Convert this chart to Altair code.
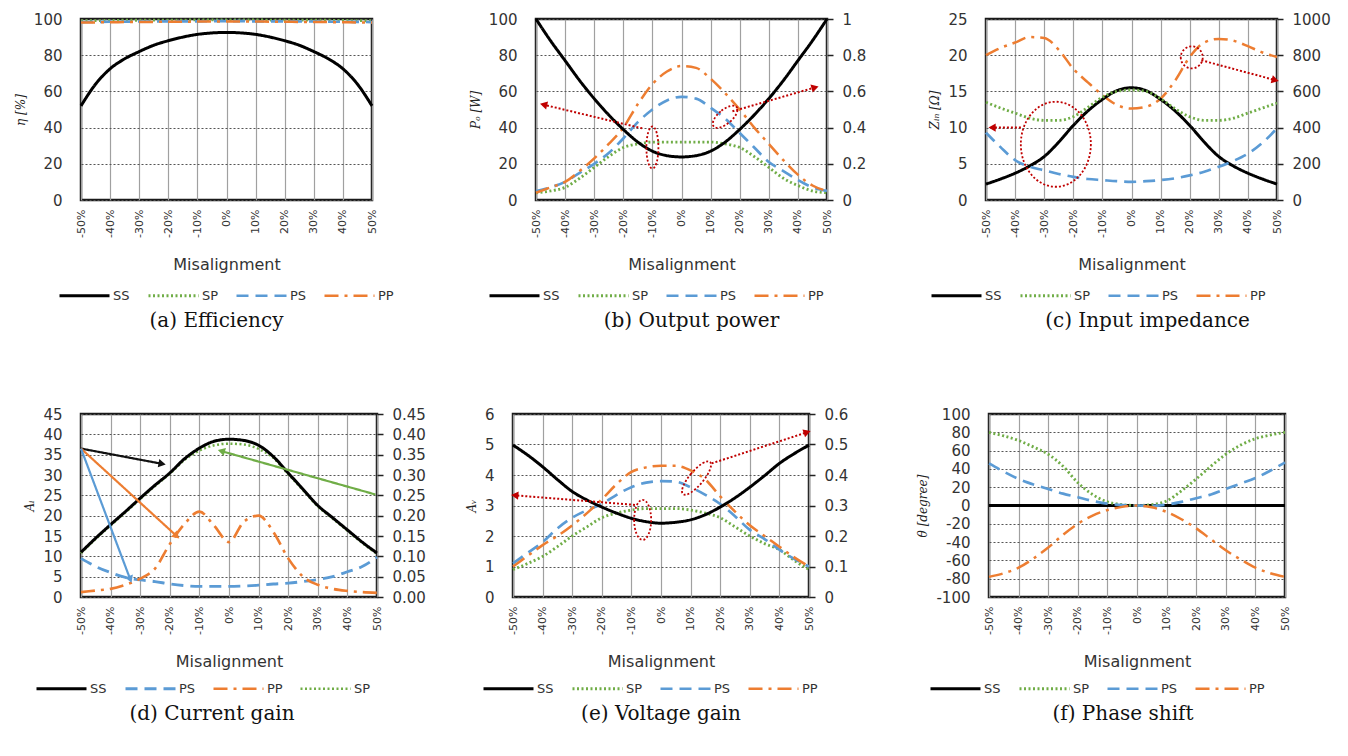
import math
import altair as alt
import pandas as pd

# Misalignment sample points (%) and the tick positions on the x axis
X = list(range(-50, 55, 5))
X_TICKS = list(range(-50, 60, 10))

# (a) Efficiency, eta [%]
eff_SS = [52, 64, 72.5, 78, 82, 85.5, 88, 90, 91.5, 92.3, 92.6, 92.3, 91.5, 90, 88, 85.5, 82, 78, 72.5, 64, 52]
eff_SP = [99.0, 99.1, 99.2, 99.3, 99.3, 99.4, 99.4, 99.4, 99.5, 99.5, 99.5, 99.5, 99.5, 99.4, 99.4, 99.4, 99.3, 99.3, 99.2, 99.1, 99.0]
eff_PS = [98.3, 98.4, 98.5, 98.5, 98.6, 98.6, 98.7, 98.7, 98.7, 98.8, 98.8, 98.8, 98.7, 98.7, 98.7, 98.6, 98.6, 98.5, 98.5, 98.4, 98.3]
eff_PP = [98.0, 98.1, 98.2, 98.3, 98.4, 98.4, 98.5, 98.5, 98.6, 98.6, 98.6, 98.6, 98.6, 98.5, 98.5, 98.4, 98.4, 98.3, 98.2, 98.1, 98.0]

# (b) Output power: SS on the left axis [W], the others on the right axis
pow_SS = [100, 88, 77, 66, 56, 47, 39, 32, 27, 24.5, 23.8, 24.5, 27, 32, 39, 47, 56, 66, 77, 88, 100]
pow_SP = [0.04, 0.05, 0.07, 0.12, 0.18, 0.24, 0.29, 0.31, 0.32, 0.32, 0.32, 0.32, 0.32, 0.31, 0.29, 0.24, 0.18, 0.12, 0.08, 0.05, 0.04]
pow_PS = [0.05, 0.07, 0.10, 0.15, 0.20, 0.26, 0.34, 0.43, 0.50, 0.55, 0.57, 0.56, 0.51, 0.45, 0.37, 0.29, 0.21, 0.16, 0.11, 0.07, 0.05]
pow_PP = [0.04, 0.07, 0.10, 0.16, 0.23, 0.31, 0.40, 0.53, 0.64, 0.71, 0.74, 0.73, 0.67, 0.59, 0.50, 0.40, 0.31, 0.22, 0.14, 0.08, 0.05]

# (c) Input impedance: SS, SP, PS on the left axis [Ohm], PP on the right axis
imp_SS = [2.2, 2.9, 3.7, 4.7, 6.0, 8.0, 10.3, 12.3, 13.9, 15.1, 15.5, 15.1, 13.9, 12.3, 10.3, 8.0, 6.0, 4.7, 3.7, 2.9, 2.2]
imp_SP = [13.5, 12.7, 12.0, 11.3, 11.0, 11.0, 11.5, 12.8, 14.2, 15.0, 15.2, 15.0, 14.0, 12.6, 11.5, 11.0, 11.0, 11.3, 12.0, 12.7, 13.4]
imp_PS = [9.3, 7.3, 5.5, 4.6, 4.1, 3.6, 3.2, 2.9, 2.75, 2.6, 2.5, 2.6, 2.75, 3.0, 3.4, 3.9, 4.6, 5.4, 6.4, 7.9, 9.9]
imp_PP = [800, 840, 870, 900, 895, 830, 725, 650, 580, 525, 505, 515, 560, 660, 790, 870, 890, 880, 850, 815, 790]

# (d) Current gain: SS on the left axis, the others on the right axis
ig_SS = [11, 14.5, 17.8, 21, 24.3, 27.5, 30.5, 34, 36.6, 38.3, 38.8, 38.5, 37.3, 34.5, 30.5, 26.5, 22.5, 19.5, 16.5, 13.5, 10.8]
ig_PS = [0.095, 0.075, 0.06, 0.048, 0.042, 0.038, 0.032, 0.028, 0.026, 0.026, 0.026, 0.027, 0.029, 0.032, 0.034, 0.038, 0.043, 0.05, 0.062, 0.075, 0.098]
ig_PP = [0.012, 0.016, 0.02, 0.03, 0.045, 0.07, 0.13, 0.18, 0.21, 0.175, 0.135, 0.185, 0.20, 0.16, 0.095, 0.05, 0.03, 0.02, 0.015, 0.012, 0.01]
ig_SP = [0.108, 0.143, 0.176, 0.208, 0.241, 0.273, 0.303, 0.337, 0.36, 0.373, 0.377, 0.375, 0.364, 0.342, 0.302, 0.263, 0.223, 0.193, 0.163, 0.133, 0.106]

# (e) Voltage gain: SS on the left axis, the others on the right axis
vg_SS = [4.98, 4.65, 4.27, 3.85, 3.46, 3.18, 2.95, 2.75, 2.58, 2.47, 2.42, 2.45, 2.53, 2.7, 2.95, 3.25, 3.6, 3.98, 4.38, 4.7, 4.98]
vg_SP = [0.09, 0.11, 0.133, 0.165, 0.2, 0.23, 0.26, 0.275, 0.285, 0.29, 0.29, 0.29, 0.285, 0.275, 0.26, 0.23, 0.2, 0.175, 0.155, 0.12, 0.09]
vg_PS = [0.11, 0.145, 0.18, 0.225, 0.26, 0.285, 0.305, 0.335, 0.36, 0.375, 0.38, 0.378, 0.36, 0.335, 0.305, 0.265, 0.22, 0.19, 0.155, 0.125, 0.1]
vg_PP = [0.1, 0.135, 0.17, 0.2, 0.235, 0.275, 0.32, 0.37, 0.41, 0.425, 0.43, 0.43, 0.415, 0.385, 0.33, 0.28, 0.235, 0.2, 0.165, 0.13, 0.1]

# (f) Phase shift [degree]
ph_SS = [0] * 21
ph_SP = [80, 76, 71, 64, 56, 43, 25, 12, 4, 1, 0, 1, 5, 16, 29, 43, 56, 66, 73, 77, 80]
ph_PS = [46, 37, 29, 23, 18, 13, 9, 5, 2, 0.5, 0, -0.5, 1, 4, 8, 12, 18, 24, 30, 38, 47]
ph_PP = [-78, -74, -68, -58, -46, -32, -20, -11, -5, -1.5, 0, -2, -7, -15, -25, -37, -49, -59, -68, -74, -78]

# Callouts (left-axis units): dotted ellipses (x, y, width px, height px, tilt) and arrows (x1, y1, x2, y2)
pow_ellipses = [(-10, 29, 12, 42, 0), (15, 46, 14, 30, 50)]
pow_arrows = [(-13.5, 39.6, -47, 52.5), (17.5, 49, 45.5, 62)]
imp_ellipses = [(-26, 7.7, 70, 85, 0), (20.7, 19.7, 22, 22, 0)]
imp_arrows = [(-38, 10, -47.5, 10), (24, 19.3, 49, 16.6)]
vg_ellipses = [(-6.2, 2.53, 17, 40, 0), (12, 3.9, 14, 42, 40)]
vg_arrows = [(-8.8, 3.02, -49, 3.33), (17.1, 4.38, 49, 5.39)]
ig_arrows = {
    "#111111": (-50, 36.5, -23, 32.8),
    "#ED7D31": (-50, 36.5, -18, 15.2),
    "#5B9BD5": (-50, 36.5, -33.5, 4.6),
    "#70AD47": (49.5, 25.2, -2.2, 35.8),
}

COLORS = {"SS": "#000000", "SP": "#70AD47", "PS": "#5B9BD5", "PP": "#ED7D31"}
DASHES = {"SS": [1, 0], "SP": [2, 2.5], "PS": [12, 7], "PP": [14, 6, 3, 6]}
WIDTHS = {"SS": 3, "SP": 2.5, "PS": 2.5, "PP": 2.5}
RED = "#C00000"
TICK_FONT = "DejaVu Sans"
LABEL_COLOR = "#333333"
X_DOM = [-50, 50]

X_AXIS = alt.Axis(
    values=X_TICKS, labelExpr="datum.value + '%'", labelAngle=-90,
    title="Misalignment", grid=True, gridColor="#a0a0a0", gridWidth=1.2,
    ticks=False, domain=False, labelFontSize=11, labelFont=TICK_FONT,
    labelColor=LABEL_COLOR, labelPadding=9, titleFontSize=16,
    titleFont=TICK_FONT, titleFontWeight="normal", titleColor=LABEL_COLOR,
    titlePadding=19,
)


def long_df(series):
    rows = []
    for name, vals in series.items():
        for x, v in zip(X, vals):
            rows.append({"x": x, "v": v, "s": name})
    return pd.DataFrame(rows)


def x_enc(field="x"):
    return alt.X(f"{field}:Q", scale=alt.Scale(domain=X_DOM, nice=False, zero=False), axis=X_AXIS)


def ticks_for(dom, step):
    return [round(dom[0] + i * step, 6) for i in range(int(round((dom[1] - dom[0]) / step)) + 1)]


def left_axis(dom, step, title, title_pad=6):
    return dict(
        dom=dom,
        axis=alt.Axis(
            values=ticks_for(dom, step), title=title, grid=True, gridDash=[2, 2], gridColor="#555555",
            gridWidth=1.2, ticks=False, domain=False, labelFontSize=15, labelFont=TICK_FONT,
            labelColor=LABEL_COLOR, labelPadding=19, labelExpr="replace(datum.label, '−', '-')",
            titleFont="DejaVu Serif", titleFontStyle="italic", titleFontWeight="normal",
            titleFontSize=12, titleColor="#222222", titlePadding=title_pad,
        ),
    )


def right_axis(dom, step, fmt):
    return dict(
        dom=dom,
        axis=alt.Axis(
            orient="right", values=ticks_for(dom, step), format=fmt, title=None, grid=False,
            ticks=True, tickSize=6, tickColor="#222222", tickWidth=1.5, domain=False,
            labelFontSize=15, labelFont=TICK_FONT, labelColor=LABEL_COLOR, labelPadding=9,
        ),
    )


def y_enc(ax, field="v"):
    return alt.Y(f"{field}:Q", scale=alt.Scale(domain=ax["dom"], nice=False, zero=False), axis=ax["axis"])


def line_layer(series, ax, order, legend):
    enc = dict(
        x=x_enc(),
        y=y_enc(ax),
        color=alt.Color("s:N", scale=alt.Scale(domain=order, range=[COLORS[k] for k in order]), legend=legend),
        strokeDash=alt.StrokeDash("s:N", scale=alt.Scale(domain=order, range=[DASHES[k] for k in order]), legend=legend),
        strokeWidth=alt.StrokeWidth("s:N", scale=alt.Scale(domain=order, range=[WIDTHS[k] for k in order]), legend=legend),
    )
    return alt.Chart(long_df(series)).mark_line(interpolate="monotone").encode(**enc)


def ellipse_path(ratio):
    r = round(ratio, 3)
    return f"M {-r} 0 A {r} 1 0 1 0 {r} 0 A {r} 1 0 1 0 {-r} 0 Z"


def ellipse_layer(rows, ax):
    df = pd.DataFrame([
        {"x": x, "v": y, "shape": ellipse_path(w / h), "size": h * h, "tilt": a}
        for (x, y, w, h, a) in rows
    ])
    return alt.Chart(df).mark_point(
        filled=False, color=RED, strokeWidth=1.8, strokeDash=[2, 2], opacity=1
    ).encode(
        x=x_enc(), y=y_enc(ax),
        shape=alt.Shape("shape:N", scale=None),
        size=alt.Size("size:Q", scale=None),
        angle=alt.Angle("tilt:Q", scale=None),
    )


def head_angle(x1, y1, x2, y2, W, H, span):
    dx = (x2 - x1) / 100.0 * W
    dy = -(y2 - y1) / span * H
    return math.degrees(math.atan2(dx, -dy)) % 360


def arrow_layers(rows, ax, color, dash, W, H, width=2.0):
    span = ax["dom"][1] - ax["dom"][0]
    df = pd.DataFrame([
        {"x": x1, "v": y1, "x2": x2, "v2": y2, "head": head_angle(x1, y1, x2, y2, W, H, span)}
        for (x1, y1, x2, y2) in rows
    ])
    shaft = alt.Chart(df).mark_rule(color=color, strokeWidth=width, strokeDash=dash).encode(
        x=x_enc(), y=y_enc(ax), x2="x2:Q", y2="v2:Q"
    )
    head = alt.Chart(df).mark_point(shape="triangle", filled=True, color=color, size=70, opacity=1).encode(
        x=x_enc("x2"), y=y_enc(ax, "v2"),
        angle=alt.Angle("head:Q", scale=None),
    )
    return [shaft, head]


def legend(lx, ly):
    return alt.Legend(
        orient="none", legendX=lx, legendY=ly, direction="horizontal", columns=4,
        title=None, symbolType="stroke", symbolSize=2500, labelFontSize=13,
        labelFont=TICK_FONT, labelColor=LABEL_COLOR, columnPadding=12, labelOffset=2,
    )


def caption(text, dx):
    return alt.TitleParams(
        text=text, orient="bottom", anchor="middle", frame="group", dx=dx,
        font="DejaVu Serif", fontSize=20, fontWeight="normal", color="#111111", offset=8,
    )


TOP_W, TOP_H = 291, 181
BOT_W, BOT_H = 296, 183
ORDER = ["SS", "SP", "PS", "PP"]
TOP_LY, BOT_LY = 250, 248

# (a)
ax_a = left_axis([0, 100], 20, "η [%]")
pa = alt.layer(
    line_layer({"SS": eff_SS, "SP": eff_SP, "PS": eff_PS, "PP": eff_PP}, ax_a, ORDER, legend(-23, TOP_LY))
).properties(width=TOP_W, height=TOP_H, title=caption("(a) Efficiency", -10))

# (b)
ax_bl = left_axis([0, 100], 20, "Pₒ [W]")
ax_br = right_axis([0, 1], 0.2, "~g")
lgb = legend(-48, TOP_LY)
pb = alt.layer(
    line_layer({"SP": pow_SP, "PS": pow_PS, "PP": pow_PP}, ax_br, ORDER, lgb),
    alt.layer(
        line_layer({"SS": pow_SS}, ax_bl, ORDER, lgb),
        ellipse_layer(pow_ellipses, ax_bl),
        *arrow_layers(pow_arrows, ax_bl, RED, [2, 2], TOP_W, TOP_H),
    ),
).resolve_scale(y="independent").properties(width=TOP_W, height=TOP_H, title=caption("(b) Output power", 10))

# (c)
ax_cl = left_axis([0, 25], 5, "Zᵢₙ [Ω]")
ax_cr = right_axis([0, 1000], 200, "d")
lgc = legend(-56, TOP_LY)
pc = alt.layer(
    line_layer({"PP": imp_PP}, ax_cr, ORDER, lgc),
    alt.layer(
        line_layer({"SS": imp_SS, "SP": imp_SP, "PS": imp_PS}, ax_cl, ORDER, lgc),
        ellipse_layer(imp_ellipses, ax_cl),
        *arrow_layers(imp_arrows, ax_cl, RED, [2, 2], TOP_W, TOP_H),
    ),
).resolve_scale(y="independent").properties(width=TOP_W, height=TOP_H, title=caption("(c) Input impedance", 16))

# (d)
ORDER_D = ["SS", "PS", "PP", "SP"]
ax_dl = left_axis([0, 45], 5, "Aᵢ")
ax_dr = right_axis([0, 0.45], 0.05, ".2f")
lgd = legend(-46, BOT_LY)
d_arrows = []
for col, arr in ig_arrows.items():
    d_arrows += arrow_layers([arr], ax_dl, col, [1, 0], BOT_W, BOT_H, width=2.2)
pd_ = alt.layer(
    line_layer({"PS": ig_PS, "PP": ig_PP, "SP": ig_SP}, ax_dr, ORDER_D, lgd),
    alt.layer(line_layer({"SS": ig_SS}, ax_dl, ORDER_D, lgd), *d_arrows),
).resolve_scale(y="independent").properties(width=BOT_W, height=BOT_H, title=caption("(d) Current gain", -17))

# (e)
ax_el = left_axis([0, 6], 1, "Aᵥ")
ax_er = right_axis([0, 0.6], 0.1, "~g")
lge = legend(-31, BOT_LY)
pe = alt.layer(
    line_layer({"SP": vg_SP, "PS": vg_PS, "PP": vg_PP}, ax_er, ORDER, lge),
    alt.layer(
        line_layer({"SS": vg_SS}, ax_el, ORDER, lge),
        ellipse_layer(vg_ellipses, ax_el),
        *arrow_layers(vg_arrows, ax_el, RED, [2, 2], BOT_W, BOT_H),
    ),
).resolve_scale(y="independent").properties(width=BOT_W, height=BOT_H, title=caption("(e) Voltage gain", 0))

# (f)
ax_f = left_axis([-100, 100], 20, "θ [degree]")
pf = alt.layer(
    line_layer({"SS": ph_SS, "SP": ph_SP, "PS": ph_PS, "PP": ph_PP}, ax_f, ORDER, legend(-60, BOT_LY))
).properties(width=BOT_W, height=BOT_H, title=caption("(f) Phase shift", -14))

indep = dict(color="independent", strokeDash="independent", strokeWidth="independent")
top = alt.hconcat(
    alt.hconcat(pa, pb, spacing=72).resolve_scale(**indep), pc, spacing=59
).resolve_scale(**indep)
bottom = alt.hconcat(
    alt.hconcat(pd_, pe, spacing=37).resolve_scale(**indep), pf, spacing=65
).resolve_scale(**indep)

chart = alt.concat(top, bottom, columns=1, spacing=72, align="none").resolve_scale(**indep).properties(
    padding={"left": 13, "top": 10, "right": 5, "bottom": 5}, background="white"
).configure_view(stroke="#1a1a1a", strokeWidth=2.5)

chart.save("out.html", embed_options={"renderer": "svg", "actions": False})
